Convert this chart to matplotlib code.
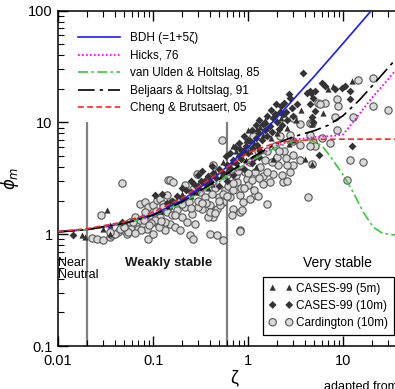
import numpy as np
import matplotlib
matplotlib.use("Agg")
import matplotlib.pyplot as plt

plt.rcParams["font.family"] = ["Liberation Sans", "DejaVu Sans"]

# ---- curves ----
bdh_z = [0.01, 0.02, 0.05, 0.1, 0.2, 0.5, 1, 2, 5, 10, 20, 40]
bdh_p = [1.05, 1.1, 1.25, 1.5, 2.0, 3.5, 6.0, 11.0, 26.0, 51.0, 101.0, 201.0]

hicks_z = [0.01, 0.02, 0.05, 0.1, 0.2, 0.3, 0.5, 0.7, 1, 1.5, 2, 3, 5, 8, 10, 15, 20, 30, 40]
hicks_p = [1.05, 1.1, 1.24, 1.46, 1.9, 2.3, 2.95, 3.55, 4.3, 5.4, 6.2, 7.0, 7.4, 7.6, 7.8, 12.0, 16.5, 24.5, 33.0]

vuh_z = [0.01, 0.02, 0.05, 0.1, 0.2, 0.5, 1, 2, 3, 4.5, 6, 7.3, 10, 12.7, 16.3, 20.7, 26, 33, 40]
vuh_p = [1.05, 1.1, 1.24, 1.47, 1.9, 3.0, 4.4, 6.0, 6.8, 7.0, 6.2, 5.0, 3.4, 2.4, 1.58, 1.16, 1.02, 0.99, 0.98]

bh_z = [0.01, 0.02, 0.05, 0.1, 0.2, 0.5, 1, 2, 3, 5, 7, 10, 15, 20, 30, 40]
bh_p = [1.05, 1.1, 1.25, 1.48, 1.94, 3.13, 4.65, 6.5, 7.45, 8.45, 9.45, 11.5, 16.0, 21.0, 31.0, 41.0]

cb_z = [0.01, 0.02, 0.05, 0.1, 0.2, 0.5, 1, 2, 5, 10, 20, 40]
cb_p = [1.06, 1.12, 1.29, 1.57, 2.1, 3.57, 5.37, 6.63, 7.05, 7.09, 7.1, 7.1]

# ---- Cardington (10m) ----
card_z = [0.047, 0.028, 0.023, 0.026, 0.030, 0.035, 0.037, 0.043, 0.048, 0.053,
          0.060, 0.068, 0.070, 0.079, 0.087, 0.089, 0.1, 0.073, 0.082, 0.089,
          0.1, 0.11, 0.119, 0.127, 0.14, 0.144, 0.53, 0.151, 0.162, 0.29,
          0.428, 0.217, 0.264, 0.14, 0.192, 0.60, 0.766, 0.975, 0.824, 0.886,
          0.695, 0.545, 0.398, 0.398, 0.472, 0.545, 0.245, 0.264, 0.824, 0.679,
          0.428, 0.379, 0.398, 0.472, 0.507, 0.824, 0.328, 0.298, 0.127, 0.14,
          0.158, 0.18, 0.2, 0.228, 0.151, 0.17, 0.119, 0.19, 0.256, 0.276,
          0.217, 0.113, 0.093, 0.105, 0.082, 0.065, 0.057, 0.073, 0.133, 0.158,
          0.31, 0.35, 0.45, 0.49, 0.57, 0.65, 0.35,
          5.45, 1.13, 2.17, 2.77, 2.98, 3.53, 4.5, 4.83, 5.07,
          3.53, 4.5, 2.98, 3.53, 2.34, 2.57, 2.28, 1.83, 2.77, 2.98,
          2.57, 2.07, 2.02, 1.19, 1.05, 1.27, 1.58, 4.28, 0.865, 0.824,
          0.93, 1.05, 1.19, 1.34, 1.51, 1.42, 1.7, 1.0, 1.27, 1.6,
          0.93, 1.1, 1.93, 2.4,
          14.4, 20.7, 8.65, 6.47, 5.72, 8.86, 20.7, 29.8, 8.24, 12.7,
          8.65, 6.0, 4.5, 4.72, 7.3, 4.72, 11.8, 16.3, 11.0,
          0.04, 0.045, 0.055, 0.062, 0.075, 0.095, 0.108, 0.115, 0.135, 0.2,
          0.24, 0.3, 0.36, 0.42, 0.5, 0.55, 0.62, 0.7, 0.75, 0.85,
          0.6, 0.7, 0.78, 0.9, 1.0, 1.15, 1.3, 1.45, 1.6, 1.8,
          2.1, 2.5, 3.0, 0.035, 0.05, 0.065, 0.08, 0.09, 0.12, 0.17,
          0.25, 0.33, 0.45]
card_p = [2.88, 1.48, 0.92, 0.90, 0.88, 0.94, 0.98, 1.04, 1.09, 1.0,
          1.16, 1.2, 1.11, 1.23, 1.11, 0.90, 1.0, 1.86, 1.94, 1.75,
          1.82, 2.02, 2.07, 1.86, 1.68, 3.06, 7.0, 3.06, 2.94, 3.47,
          4.19, 2.76, 2.54, 2.24, 2.07, 3.40, 2.94, 3.13, 2.24, 1.94,
          1.68, 1.94, 1.82, 1.0, 0.98, 0.88, 0.98, 0.90, 1.09, 1.48,
          1.42, 1.42, 1.58, 1.68, 1.82, 1.58, 1.68, 1.75, 1.75, 1.58,
          1.48, 1.64, 1.42, 1.28, 1.23, 1.16, 1.42, 1.09, 1.53, 1.23,
          1.75, 1.23, 1.48, 1.34, 1.58, 1.42, 1.28, 1.34, 1.09, 1.94,
          2.4, 2.15, 2.6, 2.15, 2.5, 2.15, 2.94,
          14.8, 7.5, 7.5, 7.8, 10.9, 9.6, 9.8, 6.7, 6.1,
          6.3, 6.1, 5.15, 4.64, 2.94, 3.0, 3.40, 3.47, 3.62, 4.19,
          4.19, 4.19, 4.94, 2.24, 2.07, 2.2, 1.86, 2.15, 1.64, 1.06,
          5.5, 4.46, 3.62, 4.0, 4.64, 3.3, 2.94, 2.76, 5.5, 5.5,
          3.62, 3.06, 6.1, 5.5,
          23.9, 24.9, 16.1, 14.8, 14.5, 13.9, 13.9, 12.8, 11.3, 11.3,
          8.65, 7.3, 7.8, 9.8, 6.5, 4.28, 4.64, 4.46, 3.06,
          1.0, 1.12, 1.05, 1.3, 1.1, 1.25, 1.6, 1.15, 1.3, 1.85,
          1.95, 2.0, 1.9, 2.3, 2.0, 2.3, 2.7, 2.5, 3.4, 2.6,
          2.2, 2.9, 3.7, 2.6, 3.5, 2.5, 3.2, 2.8, 3.6, 4.4,
          5.5, 4.8, 6.8, 1.05, 1.15, 1.03, 1.33, 1.2, 1.32, 1.5,
          1.7, 1.9, 1.55]

# ---- CASES-99 (10m) ----
c10_z = [0.0144, 0.047, 0.105, 0.124, 0.824, 0.886, 3.79, 4.18, 4.6, 5.07,
         2.77, 1.51, 1.83, 2.34, 6.0, 6.47, 8.24, 9.76, 10.5, 11.8,
         11.8, 4.5, 4.83, 4.5, 5.07, 4.83, 4.72, 12.4, 5.59,
         0.16, 0.18, 0.2, 0.22, 0.25, 0.27, 0.3, 0.32, 0.35, 0.38,
         0.4, 0.43, 0.46, 0.5, 0.55, 0.6, 0.65, 0.7, 0.75, 0.8,
         0.85, 0.9, 0.95, 1.0, 1.05, 1.1, 1.2, 1.25, 1.3, 1.4,
         1.5, 1.6, 1.7, 1.8, 2.0, 2.1, 2.3, 2.5, 2.6, 2.9,
         3.0, 3.3, 1.15, 1.35, 0.7, 2.2, 1.9, 0.58, 0.5, 0.3,
         0.65, 0.72, 0.8, 0.9, 1.0, 1.1, 1.2, 1.3, 1.45, 1.6,
         1.75, 1.95, 2.15, 2.4, 2.7, 0.9, 1.1, 1.3, 0.6, 0.42,
         0.33, 0.25, 0.2, 0.14]
c10_p = [0.98, 1.28, 2.24, 2.29, 5.8, 5.5, 27.6, 18.2, 18.2, 19.0,
         16.4, 9.8, 10.9, 11.8, 22.4, 21.1, 19.8, 20.2, 21.1, 19.0,
         16.1, 19.0, 16.4, 14.5, 12.6, 10.2, 11.3, 6.2, 5.15,
         2.0, 2.2, 2.1, 2.5, 2.4, 2.8, 2.6, 3.0, 2.9, 3.3,
         3.0, 3.5, 3.2, 3.8, 3.5, 4.2, 3.9, 4.6, 4.3, 5.0,
         4.7, 5.5, 6.2, 5.3, 6.8, 5.9, 7.2, 6.3, 8.0, 7.0,
         8.5, 7.6, 9.3, 8.2, 10.0, 8.8, 9.5, 12.5, 10.5, 13.5,
         11.5, 14.5, 4.8, 5.6, 3.4, 14.0, 12.0, 5.0, 2.7, 3.4,
         5.3, 6.0, 6.6, 7.5, 7.0, 8.6, 9.5, 10.5, 9.7, 11.5,
         13.0, 14.5, 12.5, 14.8, 18.0, 3.8, 4.3, 4.9, 3.0, 4.1,
         3.7, 3.0, 2.6, 1.9]

# ---- CASES-99 (5m) ----
c5_z = [0.033, 0.019, 0.030, 0.035, 0.018, 0.035, 1.34, 4.72, 3.98, 4.72,
        6.95, 7.85, 12.4, 6.15, 1.83,
        0.12, 0.15, 0.2, 0.25, 0.3, 0.35, 0.42, 0.45, 0.52, 0.6,
        0.68, 0.78, 0.85, 0.95, 1.05, 1.15, 1.3, 1.45, 1.6, 1.75,
        2.0, 2.2, 2.6, 3.2, 3.6, 1.0, 0.7, 2.7, 3.0,
        0.75, 0.95, 1.25, 1.5, 1.85, 2.4, 1.2, 0.55, 0.38, 0.28]
c5_p = [1.64, 0.94, 1.11, 1.2, 0.98, 1.0, 9.2, 9.6, 4.74, 4.28,
        19.8, 21.1, 23.4, 12.1, 4.74,
        1.6, 1.8, 2.3, 2.2, 2.8, 3.1, 2.8, 3.6, 3.3, 3.7,
        4.4, 4.0, 5.2, 4.6, 5.6, 6.5, 6.0, 7.8, 9.0, 7.2,
        8.0, 11.0, 9.0, 10.5, 12.8, 8.5, 6.2, 6.4, 7.0,
        5.6, 7.0, 8.7, 10.5, 11.5, 12.0, 4.0, 4.4, 2.6, 2.4]

fig = plt.figure(figsize=(3.95, 3.89), dpi=100)
ax = fig.add_axes([0.147, 0.1105, 0.962, 0.862])

ax.vlines([0.02, 0.6], 0.1, 10, color="#808080", lw=1.6, zorder=1)

ax.scatter(card_z, card_p, s=28, marker="o", facecolor="#d9d9d9", edgecolor="#555555",
           linewidths=0.8, zorder=2, label="Cardington (10m)")
ax.scatter(c10_z, c10_p, s=16, marker="D", color="#333333", linewidths=0,
           zorder=3, label="CASES-99 (10m)")
ax.scatter(c5_z, c5_p, s=20, marker="^", color="#333333", linewidths=0,
           zorder=3, label="CASES-99 (5m)")

l1, = ax.plot(bdh_z, bdh_p, color="#1a1aff", lw=1.2, zorder=5)
l2, = ax.plot(hicks_z, hicks_p, color="#ff00ff", lw=1.3, ls=(0, (1, 1.2)), zorder=5)
l3, = ax.plot(vuh_z, vuh_p, color="#33cc33", lw=1.2, ls=(0, (6, 2, 1.5, 2)), zorder=5)
l4, = ax.plot(bh_z, bh_p, color="black", lw=1.2, ls=(0, (10, 3, 2, 3)), zorder=5)
l5, = ax.plot(cb_z, cb_p, color="#ff2222", lw=1.2, ls=(0, (3.5, 2)), zorder=5)

ax.set_xscale("log")
ax.set_yscale("log")
ax.set_xlim(0.01, 100)
ax.set_ylim(0.1, 100)
ax.spines["right"].set_visible(False)
for s in ax.spines.values():
    s.set_linewidth(1.1)
ax.tick_params(which="both", direction="in", top=True, right=False, labelsize=10.5)
ax.tick_params(which="major", length=7, width=1)
ax.tick_params(which="minor", length=4, width=0.8)
ax.tick_params(axis="y", pad=4)
ax.tick_params(axis="x", pad=6)
ax.set_xticks([0.01, 0.1, 1, 10])
ax.set_xticklabels(["0.01", "0.1", "1", "10"])
ax.set_yticks([0.1, 1, 10, 100])
ax.set_yticklabels(["0.1", "1", "10", "100"])

ax.set_xlabel("ζ", fontsize=13)
ax.xaxis.set_label_coords(0.463, -0.068)
ax.set_ylabel(r"$\phi_m$", fontsize=12)
ax.yaxis.set_label_coords(-0.097, 0.5)

leg1 = ax.legend([l1, l2, l3, l4, l5],
                 ["BDH (=1+5ζ)", "Hicks, 76", "van Ulden & Holtslag, 85",
                  "Beljaars & Holtslag, 91", "Cheng & Brutsaert, 05"],
                 loc="upper left", bbox_to_anchor=(0.04, 0.95), frameon=False,
                 fontsize=8.5, handlelength=3.6, handletextpad=0.8, labelspacing=0.47,
                 borderaxespad=0)
ax.add_artist(leg1)

handles, labels = ax.get_legend_handles_labels()
order = [2, 1, 0]
leg2 = ax.legend([handles[i] for i in order], [labels[i] for i in order],
                 loc="lower left", bbox_to_anchor=(0.54, 0.032), scatterpoints=2,
                 fontsize=8.5, frameon=True, fancybox=False, edgecolor="black",
                 framealpha=1, handletextpad=0.3, labelspacing=0.45, borderpad=0.5,
                 borderaxespad=0, scatteryoffsets=[0.5])
leg2.get_frame().set_linewidth(0.9)

ax.text(0.0101, 0.49, "Near\nNeutral", fontsize=9, va="center", ha="left", linespacing=1.0)
ax.text(0.051, 0.555, "Weakly stable", fontsize=9.5, fontweight="bold", va="center", ha="left",
        color="#1a1a1a")
ax.text(3.75, 0.555, "Very stable", fontsize=10, va="center", ha="left")

fig.text(324 / 395, 1 - 381 / 389, "adapted from Grachev et al.", fontsize=9, va="top", ha="left")

fig.savefig("out.png", dpi=100)
